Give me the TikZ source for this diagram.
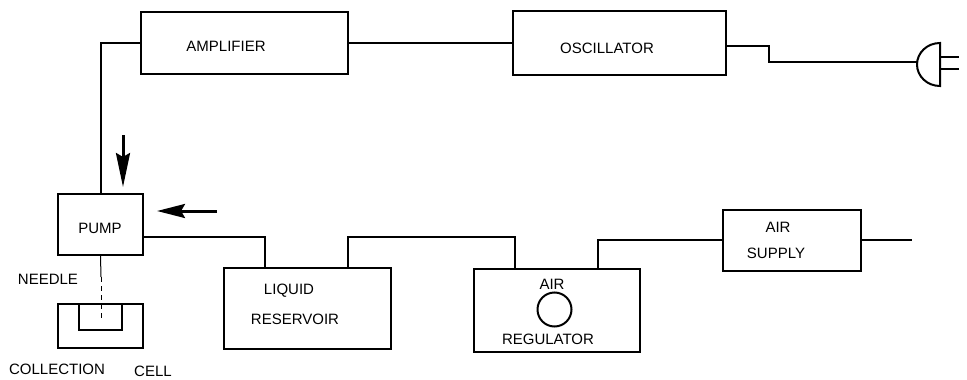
\documentclass[tikz,border=0pt]{standalone}
\usepackage{fontspec}
\setmainfont{Liberation Sans}
\usetikzlibrary{arrows.meta}
\begin{document}
\begin{tikzpicture}[
    x=1pt, y=-1pt,
    line width=2pt,
    unit/.style={draw, rectangle, inner sep=0pt},
    label/.style={inner sep=0pt, font=\fontsize{15}{17}\selectfont},
    flow/.style={line width=3pt, -{Stealth[length=#1, width=14pt, inset=4pt]}}
]
\useasboundingbox (0,0) rectangle (967,380);
% top row
\node[unit, minimum width=207pt, minimum height=62pt] (amp) at (244.5,43) {};
\node[unit, minimum width=213pt, minimum height=64pt] (osc) at (619.5,43) {};
\node[label] (amplabel) at (226,46) {AMPLIFIER};
\node[label] (osclabel) at (607,48) {OSCILLATOR};
% lower row
\node[unit, minimum width=85pt, minimum height=61pt] (pump) at (100.5,224.5) {};
\node[unit, minimum width=167pt, minimum height=81pt] (res) at (307.5,308.5) {};
\node[unit, minimum width=166pt, minimum height=83pt] (reg) at (557,310.5) {};
\node[unit, minimum width=138pt, minimum height=61pt] (supply) at (792,240) {};
\node[label] (pumplabel) at (100,228) {PUMP};
\node[label] (liquid) at (289,291) {LIQUID};
\node[label] (reservoir) at (295,319) {RESERVOIR};
\node[label] (airtop) at (552,284) {AIR};
\node[label] (regulator) at (548,339) {REGULATOR};
\node[draw, circle, minimum size=34pt, inner sep=0pt] (gauge) at (554.5,309.5) {};
\node[label] (air) at (778,227) {AIR};
\node[label] (sup) at (776,253) {SUPPLY};
% cell
\node[unit, minimum width=85pt, minimum height=44pt] (cell) at (100.5,326) {};
\node[unit, minimum width=43pt, minimum height=26pt, anchor=north] (well) at (cell.north) {};
\node[label] (needle) at (48,279) {NEEDLE};
\node[label] (collection) at (57,369) {COLLECTION};
\node[label] (celllabel) at (153,371) {CELL};
% free ends
\coordinate (needlejoin) at (101,277);
\coordinate (needletip) at (101,321);
\coordinate (airin) at (912,240);
\coordinate (plugin) at (917,62);
% connectors
\draw (pump.north) |- (amp.west);
\draw (amp.east) -- (osc.west);
\draw ([yshift=-3pt]osc.east) -- ++(42,0) |- (plugin);
\draw ([yshift=-12pt]pump.east) -| ([xshift=-42.5pt]res.north);
\draw ([xshift=40.5pt]res.north) -- ++(0,-30) -| ([xshift=-42pt]reg.north);
\draw ([xshift=41pt]reg.north) |- (supply.west);
\draw (supply.east) -- (airin);
\draw[line width=1pt] (pump.south) -- (needlejoin);
\draw[line width=0.7pt, dash pattern=on 5pt off 4pt] (needlejoin) -- (needletip);
% plug
\draw (940,43) arc[start angle=90, end angle=270, x radius=23pt, y radius=21.5pt] -- cycle;
\draw (940,57) -- (959,57);
\draw (940,69) -- (959,69);
% flow arrows
\coordinate (downstart) at (123,135);
\coordinate (downend) at (123,187);
\coordinate (leftstart) at (217,211);
\coordinate (leftend) at (157,211);
\draw[flow=34pt] (downstart) -- (downend);
\draw[flow=28pt] (leftstart) -- (leftend);
\end{tikzpicture}
\end{document}
